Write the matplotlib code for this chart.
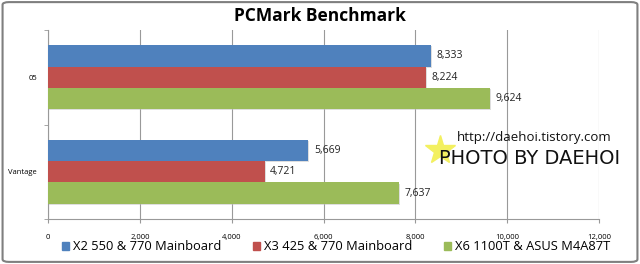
import matplotlib
matplotlib.use("Agg")
import matplotlib.pyplot as plt
import matplotlib.patches as mpatches
import numpy as np

categories = ["05", "Vantage"]
series_names = ["X2 550 & 770 Mainboard", "X3 425 & 770 Mainboard", "X6 1100T & ASUS M4A87T"]
values = {
    "X2 550 & 770 Mainboard": [8333, 5669],
    "X3 425 & 770 Mainboard": [8224, 4721],
    "X6 1100T & ASUS M4A87T": [9624, 7637],
}
colors = ["#4F81BD", "#C0504D", "#9BBB59"]
xticks = [0, 2000, 4000, 6000, 8000, 10000, 12000]
xticklabels = ["0", "2,000", "4,000", "6,000", "8,000", "10,000", "12,000"]

plt.rcParams['font.family'] = ['Open Sans', 'DejaVu Sans']

fig = plt.figure(figsize=(6.4, 2.64), dpi=100)
fig.patch.set_facecolor("white")
ax = fig.add_axes([48/640, 1-219/264, (599-48)/640, (219-30)/264])

bh = 0.226
y = np.arange(len(categories))
for i, name in enumerate(series_names):
    pos = y + (i - 1) * bh
    vals = values[name]
    # shadow
    ax.barh(pos + 0.012, vals, height=bh, left=25, color="#bfbfbf", alpha=0.5, zorder=2)
    ax.barh(pos, vals, height=bh, color=colors[i], zorder=3)
    for p, v in zip(pos, vals):
        ax.text(v + 120, p, f"{v:,}", va="center", ha="left", fontsize=7.5, color="#222222", zorder=4)

ax.set_ylim(1.5, -0.5)
ax.set_xlim(0, 12000)
ax.set_xticks(xticks)
ax.set_xticklabels(xticklabels, fontsize=5.5)
ax.set_yticks(y)
ax.set_yticklabels(categories, fontsize=5.5)
ax.set_yticks([-0.5, 0.5, 1.5], minor=True)
ax.tick_params(axis='y', which='major', length=0, pad=8)
ax.tick_params(axis='y', which='minor', length=3, color="#999999")
ax.tick_params(axis='x', length=3, color="#999999", pad=8)
ax.grid(axis='x', color="#999999", linewidth=0.8, zorder=0)
for s in ["top", "right"]:
    ax.spines[s].set_visible(False)
ax.spines["left"].set_color("#999999")
ax.spines["bottom"].set_color("#999999")

fig.text(0.5, 1-16/264, "PCMark Benchmark", ha="center", va="center", fontsize=12.5, fontweight="bold")

handles = [mpatches.Patch(color=c, label=n) for c, n in zip(colors, series_names)]
leg = fig.legend(handles=handles, loc="center", bbox_to_anchor=(0.525, 1-247/264), ncol=3,
                 frameon=False, fontsize=9.3, handlelength=0.55, handleheight=0.55,
                 handletextpad=0.35, columnspacing=2.4, borderpad=0, borderaxespad=0)

# watermark
ax.plot([440/640], [1-150/264], marker="*", markersize=22, color="#f3f060", transform=fig.transFigure,
        clip_on=False, zorder=5)
fig.text(534/640, 1-138/264, "http://daehoi.tistory.com", ha="center", va="center", fontsize=9.5, color="#111111", zorder=6)
fig.text(530/640, 1-159/264, "PHOTO BY DAEHOI", ha="center", va="center", fontsize=14, color="#111111",
         family=["DejaVu Sans"], zorder=6)

fig.patches.append(mpatches.FancyBboxPatch((0.004, 0.008), 0.992, 0.984, boxstyle="round,pad=0,rounding_size=0.01",
                                           transform=fig.transFigure, fill=False, edgecolor="#7f7f7f", linewidth=1.5))

fig.savefig("out.png", dpi=100)
